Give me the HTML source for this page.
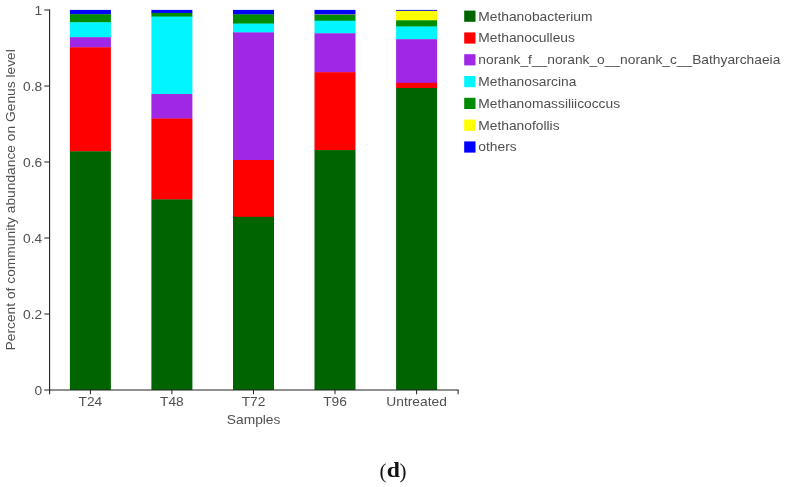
<!DOCTYPE html>
<html><head><meta charset="utf-8"><title>Figure d</title>
<style>
html,body{margin:0;padding:0;background:#fff;}
body{width:786px;height:487px;overflow:hidden;position:relative;}
svg{position:absolute;left:0;top:0;display:block;}
svg text{font-family:"Liberation Sans",Arial,Helvetica,sans-serif;font-size:13px;fill:#4f4f4f;}
svg .cap text{font-family:"Liberation Serif","Times New Roman",serif;font-size:21px;fill:#111;}
</style></head><body>
<svg width="786" height="487" viewBox="0 0 786 487">
<rect x="0" y="0" width="786" height="487" fill="#ffffff"/>

<rect x="69.9" y="9.9" width="41.0" height="4.6" fill="#0000ff"/>
<rect x="69.9" y="14.2" width="41.0" height="8.4" fill="#008b00"/>
<rect x="69.9" y="22.3" width="41.0" height="15.2" fill="#00f5ff"/>
<rect x="69.9" y="37.2" width="41.0" height="10.4" fill="#a027e6"/>
<rect x="69.9" y="47.3" width="41.0" height="104.3" fill="#ff0000"/>
<rect x="69.9" y="151.3" width="41.0" height="238.7" fill="#006400"/>
<rect x="151.4" y="9.9" width="41.0" height="3.3" fill="#0000ff"/>
<rect x="151.4" y="12.9" width="41.0" height="4.0" fill="#008b00"/>
<rect x="151.4" y="16.6" width="41.0" height="77.7" fill="#00f5ff"/>
<rect x="151.4" y="94.0" width="41.0" height="24.8" fill="#a027e6"/>
<rect x="151.4" y="118.5" width="41.0" height="81.2" fill="#ff0000"/>
<rect x="151.4" y="199.4" width="41.0" height="190.6" fill="#006400"/>
<rect x="233.0" y="9.9" width="41.0" height="4.8" fill="#0000ff"/>
<rect x="233.0" y="14.4" width="41.0" height="9.5" fill="#008b00"/>
<rect x="233.0" y="23.6" width="41.0" height="9.1" fill="#00f5ff"/>
<rect x="233.0" y="32.4" width="41.0" height="127.9" fill="#a027e6"/>
<rect x="233.0" y="160.0" width="41.0" height="57.1" fill="#ff0000"/>
<rect x="233.0" y="216.8" width="41.0" height="173.2" fill="#006400"/>
<rect x="314.5" y="9.9" width="41.0" height="5.0" fill="#0000ff"/>
<rect x="314.5" y="14.6" width="41.0" height="0.7" fill="#ffff00"/>
<rect x="314.5" y="15.0" width="41.0" height="6.0" fill="#008b00"/>
<rect x="314.5" y="20.7" width="41.0" height="12.9" fill="#00f5ff"/>
<rect x="314.5" y="33.3" width="41.0" height="39.2" fill="#a027e6"/>
<rect x="314.5" y="72.2" width="41.0" height="78.2" fill="#ff0000"/>
<rect x="314.5" y="150.1" width="41.0" height="239.9" fill="#006400"/>
<rect x="396.1" y="9.9" width="41.0" height="1.2" fill="#0000ff"/>
<rect x="396.1" y="10.8" width="41.0" height="9.8" fill="#ffff00"/>
<rect x="396.1" y="20.3" width="41.0" height="6.5" fill="#008b00"/>
<rect x="396.1" y="26.5" width="41.0" height="13.0" fill="#00f5ff"/>
<rect x="396.1" y="39.2" width="41.0" height="43.9" fill="#a027e6"/>
<rect x="396.1" y="82.8" width="41.0" height="5.5" fill="#ff0000"/>
<rect x="396.1" y="88.0" width="41.0" height="302.0" fill="#006400"/>
<g stroke="#222" stroke-width="1.1" fill="none">
<line x1="49.6" y1="9.5" x2="49.6" y2="394.3"/>
</g>
<g stroke="#222" stroke-width="1" fill="none">
<line x1="44.3" y1="390" x2="458.6" y2="390"/>
<line x1="44.3" y1="10" x2="49.6" y2="10"/>
<line x1="44.3" y1="86" x2="49.6" y2="86"/>
<line x1="44.3" y1="162" x2="49.6" y2="162"/>
<line x1="44.3" y1="238" x2="49.6" y2="238"/>
<line x1="44.3" y1="314" x2="49.6" y2="314"/>
<line x1="90.4" y1="390" x2="90.4" y2="394.3"/>
<line x1="171.9" y1="390" x2="171.9" y2="394.3"/>
<line x1="253.5" y1="390" x2="253.5" y2="394.3"/>
<line x1="335.0" y1="390" x2="335.0" y2="394.3"/>
<line x1="416.6" y1="390" x2="416.6" y2="394.3"/>
<line x1="458.1" y1="390" x2="458.1" y2="394.3"/>
</g>
<text transform="translate(42.2,14.7) scale(1.062,1)" text-anchor="end">1</text>
<text transform="translate(42.2,90.7) scale(1.062,1)" text-anchor="end">0.8</text>
<text transform="translate(42.2,166.7) scale(1.062,1)" text-anchor="end">0.6</text>
<text transform="translate(42.2,242.7) scale(1.062,1)" text-anchor="end">0.4</text>
<text transform="translate(42.2,318.7) scale(1.062,1)" text-anchor="end">0.2</text>
<text transform="translate(42.2,394.7) scale(1.062,1)" text-anchor="end">0</text>
<text transform="translate(90.4,406.4) scale(1.062,1)" text-anchor="middle">T24</text>
<text transform="translate(171.9,406.4) scale(1.062,1)" text-anchor="middle">T48</text>
<text transform="translate(253.5,406.4) scale(1.062,1)" text-anchor="middle">T72</text>
<text transform="translate(335.0,406.4) scale(1.062,1)" text-anchor="middle">T96</text>
<text transform="translate(416.6,406.4) scale(1.062,1)" text-anchor="middle">Untreated</text>
<text transform="translate(253.6,423.9) scale(1.062,1)" text-anchor="middle">Samples</text>
<text transform="translate(14.8,199.8) rotate(-90) scale(1.062,1)" text-anchor="middle">Percent of community abundance on Genus level</text>
<rect x="464.2" y="10.6" width="11.3" height="11.2" fill="#006400"/>
<text transform="translate(478.3,20.6) scale(1.062,1)">Methanobacterium</text>
<rect x="464.2" y="32.4" width="11.3" height="11.2" fill="#ff0000"/>
<text transform="translate(478.3,42.4) scale(1.062,1)">Methanoculleus</text>
<rect x="464.2" y="54.2" width="11.3" height="11.2" fill="#a027e6"/>
<text transform="translate(478.3,64.2) scale(1.062,1)">norank_f__norank_o__norank_c__Bathyarchaeia</text>
<rect x="464.2" y="76.0" width="11.3" height="11.2" fill="#00f5ff"/>
<text transform="translate(478.3,86.0) scale(1.062,1)">Methanosarcina</text>
<rect x="464.2" y="97.8" width="11.3" height="11.2" fill="#008b00"/>
<text transform="translate(478.3,107.8) scale(1.062,1)">Methanomassiliicoccus</text>
<rect x="464.2" y="119.6" width="11.3" height="11.2" fill="#ffff00"/>
<text transform="translate(478.3,129.6) scale(1.062,1)">Methanofollis</text>
<rect x="464.2" y="141.4" width="11.3" height="11.2" fill="#0000ff"/>
<text transform="translate(478.3,151.4) scale(1.062,1)">others</text>
<g class="cap"><text transform="translate(379.4,477.9) scale(1,1.04)">(</text><text transform="translate(386.7,477.4) scale(1.13,1)" font-weight="bold">d</text><text transform="translate(399.6,477.9) scale(1,1.04)">)</text></g>
</svg>
</body></html>
